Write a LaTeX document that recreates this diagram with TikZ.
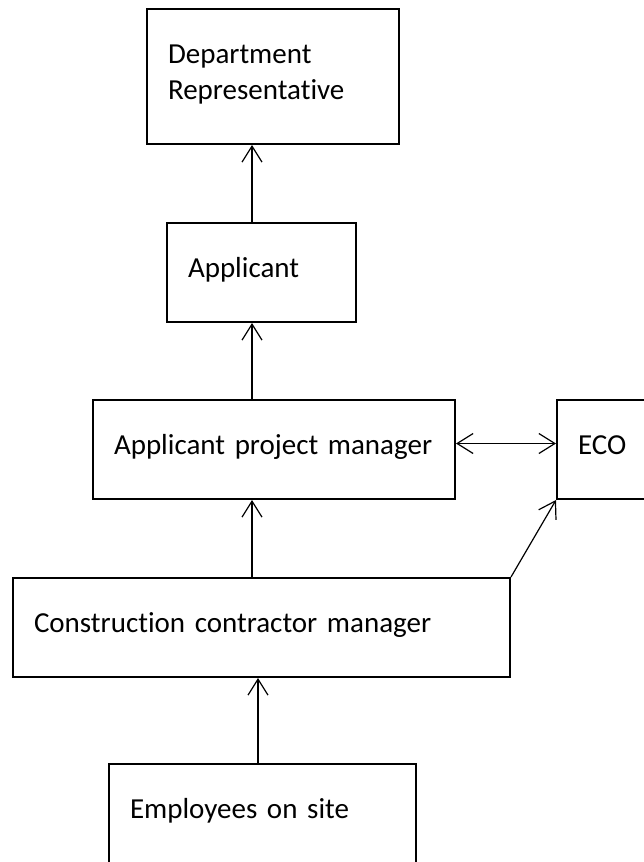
\documentclass[tikz,border=0pt]{standalone}
\usepackage{fontspec}
\setmainfont{Carlito}[Ligatures={NoCommon}]
\usepackage{tikz}
\usetikzlibrary{arrows.meta,positioning}
\newcommand{\boxfont}{\fontsize{29}{36}\selectfont}
\tikzstyle{unit} = [draw=black, line width=2pt, align=left, anchor=north west, inner xsep=21pt, inner ysep=0pt, text height=54pt, text depth=45pt, font=\boxfont]
\tikzstyle{link} = [draw, line width=1.2pt, -{Straight Barb[length=16pt,width=20pt]}]
\tikzstyle{both} = [draw, line width=1.2pt, {Straight Barb[length=16pt,width=20pt]}-{Straight Barb[length=16pt,width=20pt]}]

\begin{document}
\begin{tikzpicture}[x=1pt, y=-1pt]
\useasboundingbox (0,0) rectangle (643,862);

% boxes =============================
\node[unit, text width=210pt, text depth=81pt] (dept) at (146,8) {Department\\Representative};
\node[unit, text width=147pt] (app) at (166,222) {Applicant};
\node[unit, text width=320pt] (apm) at (92,399) {Applicant project manager};
\node[unit, anchor=west, text width=55pt, right=100pt of apm] (eco) {ECO};
\node[unit, text width=455pt] (ccm) at (12,577) {Construction contractor manager};
\node[unit, text width=265pt] (emp) at (108,763) {Employees on site};

\coordinate (spine) at (252,0);
\coordinate (spine2) at (258,0);

% edges
\path[link] (app.north -| spine) -- (dept.south -| spine);
\path[link] (apm.north -| spine) -- (app.south -| spine);
\path[link] (ccm.north -| spine) -- (apm.south -| spine);
\path[link] (emp.north -| spine2) -- (ccm.south -| spine2);
\path[both] ([yshift=6pt]apm.east) -- ([yshift=6pt]apm.east -| eco.west);
\path[link] (ccm.north east) -- (eco.south west);

\end{tikzpicture}
\end{document}
